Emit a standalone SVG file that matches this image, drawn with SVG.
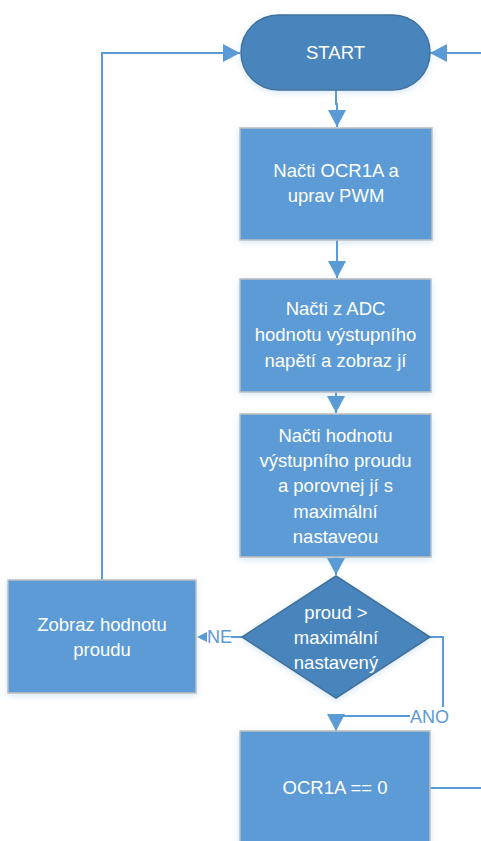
<svg xmlns="http://www.w3.org/2000/svg" width="481" height="841" viewBox="0 0 481 841">
  <defs>
    <style>
      .proc { fill: #5b9bd5; stroke: #bfbfbf; stroke-width: 1.5; filter: url(#glow); }
      .dark { fill: #4a85bd; stroke: #41719c; stroke-width: 1.5; filter: url(#glow); }
      .label { font-family: "Liberation Sans", Arial, sans-serif; font-size: 18.5px; fill: #ffffff; text-anchor: middle; }
      .edge-label { font-family: "Liberation Sans", Arial, sans-serif; font-size: 18px; fill: #5b9bd5; text-anchor: middle; }
      .wire { fill: none; stroke: #5b9bd5; stroke-width: 2; }
      .wire-arrow { marker-end: url(#arrow); }
    </style>
    <marker id="arrow" markerUnits="userSpaceOnUse" markerWidth="18" markerHeight="18" refX="17" refY="9" orient="auto">
      <path d="M0,0 L17,9 L0,18 Z" fill="#5b9bd5"/>
    </marker>
    <filter id="glow" x="-10%" y="-10%" width="120%" height="120%">
      <feDropShadow dx="0" dy="2" stdDeviation="3" flood-color="#5b9bd5" flood-opacity="0.25"/>
    </filter>
  </defs>

  <!-- connectors -->
  <g id="connectors">
    <path class="wire wire-arrow" d="M336,90 V104 H337 V127"/>
    <path class="wire wire-arrow" d="M337,240 V278"/>
    <path class="wire wire-arrow" d="M336,392 V413"/>
    <path class="wire wire-arrow" d="M336,557 V575"/>
    <!-- NE branch: short stub, label, small head -->
    <path class="wire" d="M242,637 H231"/>
    <path d="M207,632 L197,637 L207,642 Z" fill="#5b9bd5"/>
    <!-- ANO branch -->
    <path class="wire" d="M430,637 H443 V707"/>
    <path class="wire wire-arrow" d="M410,716 H336 V731"/>
    <!-- loop back to START -->
    <path class="wire wire-arrow" d="M102,580 V53 H240"/>
    <path class="wire wire-arrow" d="M481,53 H430"/>
    <path class="wire" d="M430,788 H481"/>
  </g>

  <g id="start">
    <rect class="dark" x="241" y="15" width="189" height="75" rx="37.5" ry="37.5"/>
    <text class="label" x="335.5" y="59">START</text>
  </g>

  <g id="read-ocr">
    <rect class="proc" x="240" y="128" width="192" height="112"/>
    <text class="label" x="336" y="177">Načti OCR1A a</text>
    <text class="label" x="336" y="202">uprav PWM</text>
  </g>

  <g id="read-adc">
    <rect class="proc" x="240" y="279" width="191" height="113"/>
    <text class="label" x="335.5" y="315">Načti z ADC</text>
    <text class="label" x="335.5" y="341">hodnotu výstupního</text>
    <text class="label" x="335.5" y="367">napětí a zobraz jí</text>
  </g>

  <g id="read-current">
    <rect class="proc" x="240" y="414" width="191" height="143"/>
    <text class="label" x="335.5" y="442">Načti hodnotu</text>
    <text class="label" x="335.5" y="467">výstupního proudu</text>
    <text class="label" x="335.5" y="492">a porovnej jí s</text>
    <text class="label" x="335.5" y="518">maximální</text>
    <text class="label" x="335.5" y="543">nastaveou</text>
  </g>

  <g id="decision">
    <polygon class="dark" points="336,576 430,637 336,698 242,637"/>
    <text class="label" x="336" y="619">proud &gt;</text>
    <text class="label" x="336" y="644">maximální</text>
    <text class="label" x="336" y="669">nastavený</text>
  </g>

  <g id="show-current">
    <rect class="proc" x="8" y="580" width="188" height="113"/>
    <text class="label" x="102" y="631">Zobraz hodnotu</text>
    <text class="label" x="102" y="656">proudu</text>
  </g>

  <g id="ocr-zero">
    <rect class="proc" x="240" y="731" width="190" height="130"/>
    <text class="label" x="335" y="794">OCR1A == 0</text>
  </g>

  <g id="edge-labels">
    <text class="edge-label" x="219.5" y="643">NE</text>
    <text class="edge-label" x="429.5" y="723">ANO</text>
  </g>
</svg>
